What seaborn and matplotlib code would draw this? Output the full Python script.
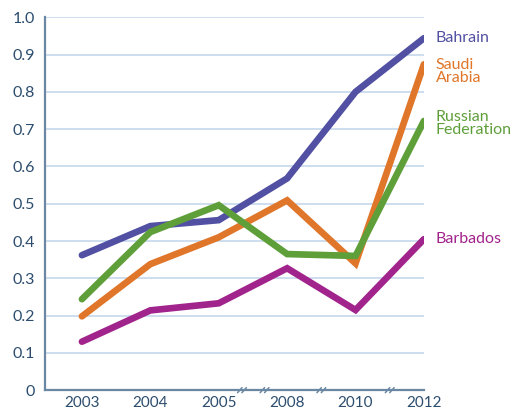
import numpy as np
import pandas as pd
import matplotlib.pyplot as plt
import seaborn as sns

years = ['2003', '2004', '2005', '2008', '2010', '2012']
bahrain = [0.362, 0.44, 0.456, 0.568, 0.80, 0.944]
saudi_arabia = [0.198, 0.338, 0.41, 0.509, 0.34, 0.874]
russian_federation = [0.244, 0.424, 0.496, 0.365, 0.36, 0.722]
barbados = [0.13, 0.214, 0.233, 0.327, 0.215, 0.405]

series = {
    'Bahrain': bahrain,
    'Saudi\nArabia': saudi_arabia,
    'Russian\nFederation': russian_federation,
    'Barbados': barbados,
}
colors = {
    'Bahrain': '#5150a2',
    'Saudi\nArabia': '#e0762a',
    'Russian\nFederation': '#5f9f3a',
    'Barbados': '#a1238c',
}
# axis breaks between years that are skipped
breaks = [2.34, 2.67, 3.5, 4.5]

rows = []
for name, vals in series.items():
    for i, v in enumerate(vals):
        rows.append({'pos': i, 'value': v, 'country': name})
df = pd.DataFrame(rows)

sns.set_style('white')
plt.rcParams['font.family'] = ['Lato', 'DejaVu Sans']

axis_col = '#6a87a3'
text_col = '#2c4d6e'

fig, ax = plt.subplots(figsize=(5.17, 4.12), dpi=100)
fig.subplots_adjust(left=0.087, right=0.82, top=0.958, bottom=0.053)

for y in np.arange(0.1, 1.01, 0.1):
    ax.axhline(y, color='#c9dbee', lw=1.3, zorder=0)

sns.lineplot(data=df, x='pos', y='value', hue='country', palette=colors,
             lw=4.8, legend=False, ax=ax, sort=False,
             solid_capstyle='round', solid_joinstyle='miter')

ax.set_xlim(-0.54, 5)
ax.set_ylim(0, 1.0)
ax.set_xlabel('')
ax.set_ylabel('')
ax.set_xticks(range(len(years)))
ax.set_xticklabels(years)
ax.set_yticks(np.arange(0, 1.01, 0.1))
ax.set_yticklabels(['0'] + [f'{v:.1f}' for v in np.arange(0.1, 1.01, 0.1)])

for s in ['top', 'right']:
    ax.spines[s].set_visible(False)
for s in ['left', 'bottom']:
    ax.spines[s].set_color(axis_col)
    ax.spines[s].set_linewidth(1.6)

ax.tick_params(axis='x', direction='in', length=10, width=1.2, color='#3d5f80',
               labelcolor=text_col, labelsize=11, pad=4)
ax.tick_params(axis='y', direction='in', length=9, width=1.6, color=axis_col,
               labelcolor=text_col, labelsize=11.5, pad=7)

# small "//" break marks on the x axis
fig.canvas.draw()
for b in breaks:
    x0, y0 = ax.transData.transform((b, 0))
    for off in (-2.2, 2.2):
        fig.add_artist(plt.Line2D([x0 + off - 2.2, x0 + off + 2.2],
                                  [y0 - 2.5, y0 + 2.5], transform=None,
                                  color=axis_col, lw=1.1))

label_y = {'Bahrain': 0.944, 'Saudi\nArabia': 0.855, 'Russian\nFederation': 0.715,
           'Barbados': 0.405}
for name, y in label_y.items():
    ax.text(5.17, y, name, color=colors[name], fontsize=11.5, va='center',
            ha='left', linespacing=0.85, clip_on=False)

plt.savefig('out.png', dpi=100)
